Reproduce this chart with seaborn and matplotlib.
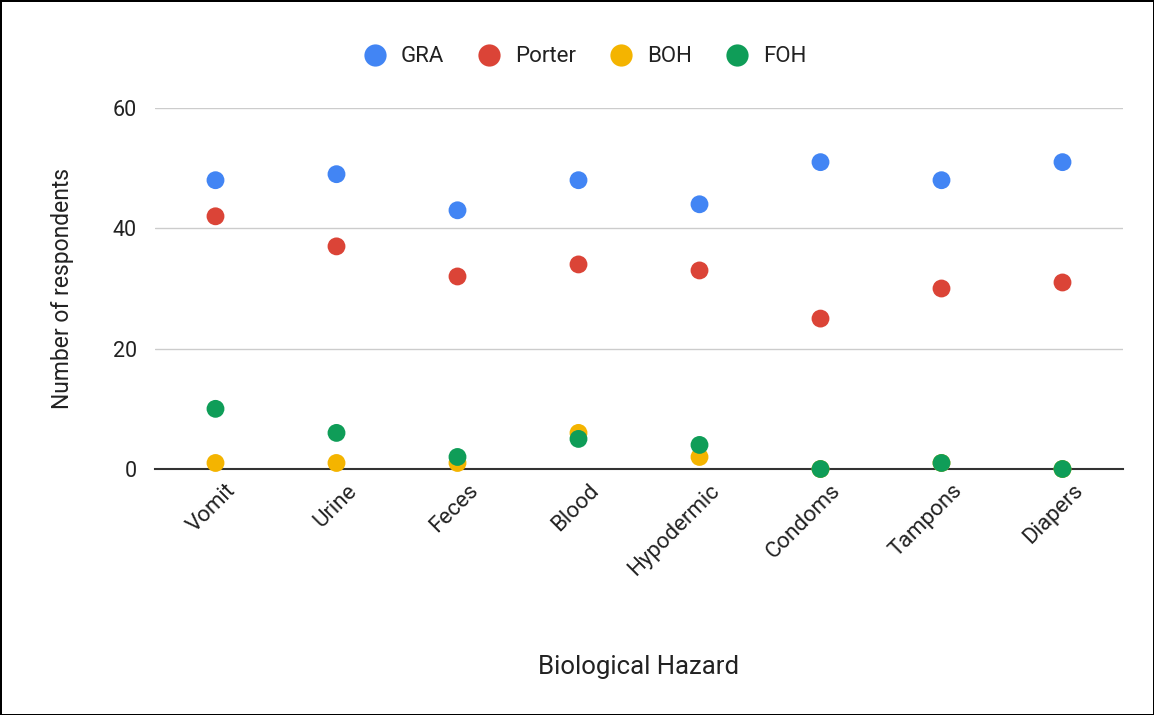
import matplotlib
matplotlib.use("Agg")
import matplotlib.pyplot as plt
import matplotlib.transforms as mtransforms
import seaborn as sns
import pandas as pd
from matplotlib.lines import Line2D

hazards = ["Vomit", "Urine", "Feces", "Blood", "Hypodermic", "Condoms", "Tampons", "Diapers"]
gra = [48, 49, 43, 48, 44, 51, 48, 51]
porter = [42, 37, 32, 34, 33, 25, 30, 31]
boh = [1, 1, 1, 6, 2, 0, 1, 0]
foh = [10, 6, 2, 5, 4, 0, 1, 0]
series_names = ["GRA", "Porter", "BOH", "FOH"]
colors = ["#4285F4", "#DB4437", "#F4B400", "#0F9D58"]
yticks = [0, 20, 40, 60]

rows = []
for name, vals in zip(series_names, [gra, porter, boh, foh]):
    for h, v in zip(hazards, vals):
        rows.append({"Hazard": h, "Value": v, "Series": name})
df = pd.DataFrame(rows)
df["Hazard"] = pd.Categorical(df["Hazard"], categories=hazards, ordered=True)
df["x"] = df["Hazard"].cat.codes

sns.set_style("white")
plt.rcParams["font.family"] = ["Roboto", "DejaVu Sans"]

fig = plt.figure(figsize=(11.54, 7.15), dpi=100, edgecolor="black", linewidth=2)
ax = fig.add_axes([155 / 1154, 1 - 469 / 715, (1123 - 155) / 1154, (469 - 108) / 715])

sns.scatterplot(data=df, x="x", y="Value", hue="Series", hue_order=series_names,
                palette=colors, s=165, edgecolor="none", ax=ax, legend=False, zorder=3)

ax.set_xlim(-0.5, len(hazards) - 0.5)
ax.set_ylim(0, 60)
ax.set_yticks(yticks)
ax.set_yticklabels([str(t) for t in yticks], fontsize=15.5, color="#222222")
ax.set_xticks(range(len(hazards)))
ax.set_xticklabels(hazards, rotation=45, ha="right", rotation_mode="anchor", fontsize=16, color="#222222")
ax.tick_params(axis="y", length=0, pad=13)
ax.tick_params(axis="x", length=0, pad=8)
offset = mtransforms.ScaledTranslation(0.1, 0.0, fig.dpi_scale_trans)
for lbl in ax.get_xticklabels():
    lbl.set_transform(lbl.get_transform() + offset)
ax.yaxis.grid(True, color="#cccccc", linewidth=1)
ax.set_axisbelow(True)
for s in ["top", "right", "left"]:
    ax.spines[s].set_visible(False)
ax.spines["bottom"].set_color("#333333")
ax.spines["bottom"].set_linewidth(1.5)
ax.spines["bottom"].set_zorder(2)
for c in ax.collections:
    c.set_clip_on(False)

ax.set_xlabel("Biological Hazard", fontsize=18.5, color="#222222")
ax.set_ylabel("Number of respondents", fontsize=16.5, color="#222222")
ax.xaxis.set_label_coords(0.5, -(655 - 469) / (469 - 108))
ax.yaxis.set_label_coords(-(155 - 74) / (1123 - 155), 0.5)

handles = [Line2D([0], [0], marker="o", linestyle="none", markersize=16,
                  markerfacecolor=c, markeredgecolor="none") for c in colors]
fig.legend(handles, series_names, loc="center", bbox_to_anchor=(0.506, 1 - 57 / 715),
           ncol=4, frameon=False, fontsize=16, handletextpad=0.55, columnspacing=1.45,
           handlelength=1.2, labelcolor="#222222")

fig.savefig("out.png", dpi=100, edgecolor=fig.get_edgecolor())
